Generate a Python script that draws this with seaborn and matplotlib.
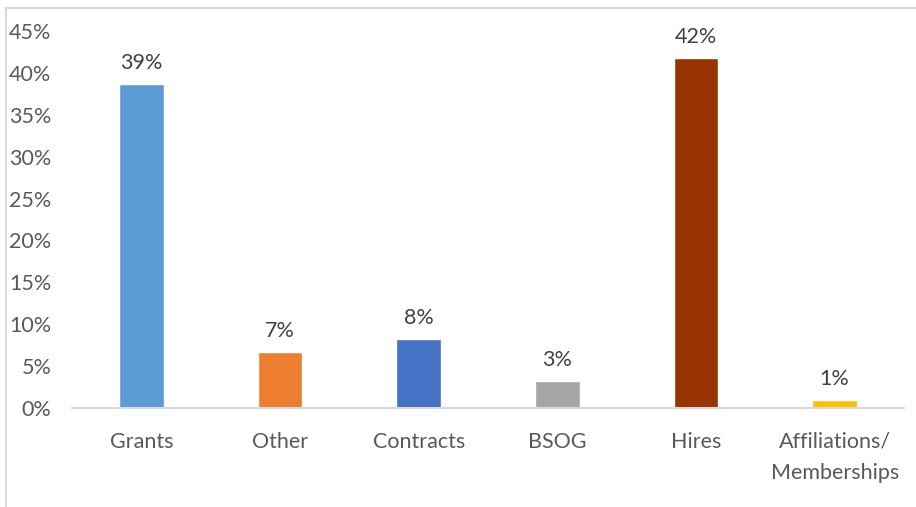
import matplotlib.pyplot as plt
import pandas as pd
import seaborn as sns
from matplotlib.patches import Rectangle
from matplotlib.ticker import PercentFormatter

categories = ["Grants", "Other", "Contracts", "BSOG", "Hires", "Affiliations/\nMemberships"]
shares = [0.387, 0.067, 0.082, 0.032, 0.418, 0.010]
labels = ["39%", "7%", "8%", "3%", "42%", "1%"]
colors = ["#5B9BD5", "#ED7D31", "#4472C4", "#A5A5A5", "#993300", "#FFC000"]

df = pd.DataFrame({"Category": categories, "Share": shares})

sns.set_style("white")
plt.rcParams["font.family"] = ["Lato", "DejaVu Sans"]

fig = plt.figure(figsize=(9.16, 5.07), dpi=100)
ax = fig.add_axes([72 / 916, 1 - 408 / 507, 832 / 916, 377 / 507])

sns.barplot(
    data=df,
    x="Category",
    y="Share",
    hue="Category",
    palette=colors,
    width=0.32,
    saturation=1,
    legend=False,
    ax=ax,
)

for i, (v, lab) in enumerate(zip(shares, labels)):
    ax.annotate(lab, (i, v), xytext=(0, 8), textcoords="offset points",
                ha="center", va="bottom", fontsize=15.5, color="#404040")

ax.set_ylim(0, 0.45)
ax.set_yticks([i * 0.05 for i in range(10)])
ax.yaxis.set_major_formatter(PercentFormatter(1.0, decimals=0))
ax.set_xlim(-0.5, 5.5)
ax.set_xlabel("")
ax.set_ylabel("")
ax.tick_params(axis="y", length=0, pad=15, labelsize=15.5, labelcolor="#595959")
ax.tick_params(axis="x", length=0, pad=17, labelsize=15.5, labelcolor="#595959")
for lab in ax.get_xticklabels():
    lab.set_linespacing(1.7)

for s in ["top", "right", "left"]:
    ax.spines[s].set_visible(False)
ax.spines["bottom"].set_color("#D9D9D9")
ax.spines["bottom"].set_linewidth(1.5)

# chart border (only left/top visible in the crop)
fig.patches.append(Rectangle((6 / 916, -0.1), 1.2, 1 - 7.5 / 507 + 0.1,
                             transform=fig.transFigure, fill=False,
                             edgecolor="#D9D9D9", linewidth=1.5))

fig.savefig("out.png", dpi=100)
